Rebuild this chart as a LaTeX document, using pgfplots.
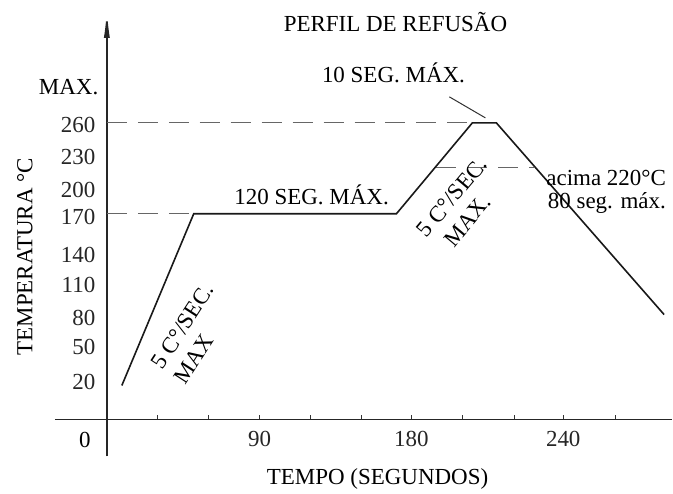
\documentclass[border=0pt]{standalone}
\usepackage{fontspec}
\setmainfont{Liberation Serif}
\usepackage{pgfplots}
\pgfplotsset{compat=1.18}
\usetikzlibrary{arrows.meta}

\begin{document}
\begin{tikzpicture}[font=\fontsize{23}{27}\selectfont]
  \begin{axis}[
      x=1pt, y=1pt,
      axis lines=middle,
      xmin=-52, xmax=566,
      ymin=-37, ymax=412,
      clip=false,
      axis line style={line width=1.8pt, black!85},
      x axis line style={-},
      y axis line style={-{Latex[length=30pt,width=6pt]}},
      xtick={153,305,457},
      xticklabels={90,180,240},
      minor xtick={51,102,204,255,356,408,509},
      xtick style={black!80, line width=1pt},
      tick align=inside,
      major tick length=4pt,
      minor tick length=4pt,
      ytick={38,73,102,135,165,203,230,263,295},
      yticklabels={20,50,80,110,140,170,200,230,260},
      ytick style={draw=none},
      yticklabel style={anchor=east, xshift=-8pt, text=black!85},
      xticklabel style={anchor=north, yshift=-8pt, text=black!85},
      /pgf/number format/assume math mode=true,
    ]

    % dashed guide lines
    \addplot[black!60, line width=1.3pt, dash pattern=on 20pt off 11pt]
      coordinates {(0,297) (366,297)};
    \addplot[black!60, line width=1.3pt, dash pattern=on 20pt off 11pt]
      coordinates {(0,206) (87,206)};
    \addplot[black!60, line width=1.3pt, dash pattern=on 20pt off 11pt]
      coordinates {(330,252) (428,252)};

    % reflow profile
    \addplot[black!90, line width=1.6pt] coordinates {
        (15,34) (87,206) (290,206) (366,297) (390,297) (558,105)
      };

    % pointer for 10 seg
    \addplot[black!80, line width=1pt] coordinates {(343,323) (379,302)};

    \node at (axis cs:289,398) {PERFIL DE REFUSÃO};
    \node at (axis cs:287,347) {10 SEG. MÁX.};
    \node at (axis cs:205,225) {120 SEG. MÁX.};
    \node[anchor=east] at (axis cs:-5,333) {MAX.};
    \node at (axis cs:-22,-21) {0};
    \node[rotate=57, align=left, inner sep=0pt] at (axis cs:87,86) {5 C°/SEC.\\MAX};
    \node[rotate=50, align=left, inner sep=0pt] at (axis cs:356,214) {5 C°/SEC.\\\hspace*{10pt}MAX.};
    \node[anchor=east, align=right, inner sep=0pt] at (axis cs:560,242) {acima 220°C};
    \node[anchor=east, align=right, inner sep=0pt] at (axis cs:560,217) {80 seg. máx.};
    \node[rotate=90] at (axis cs:-82,163) {TEMPERATURA °C};
    \node at (axis cs:271,-60) {TEMPO (SEGUNDOS)};

    \path (axis cs:-107,-73) rectangle (axis cs:566,420);
  \end{axis}
\end{tikzpicture}
\end{document}
